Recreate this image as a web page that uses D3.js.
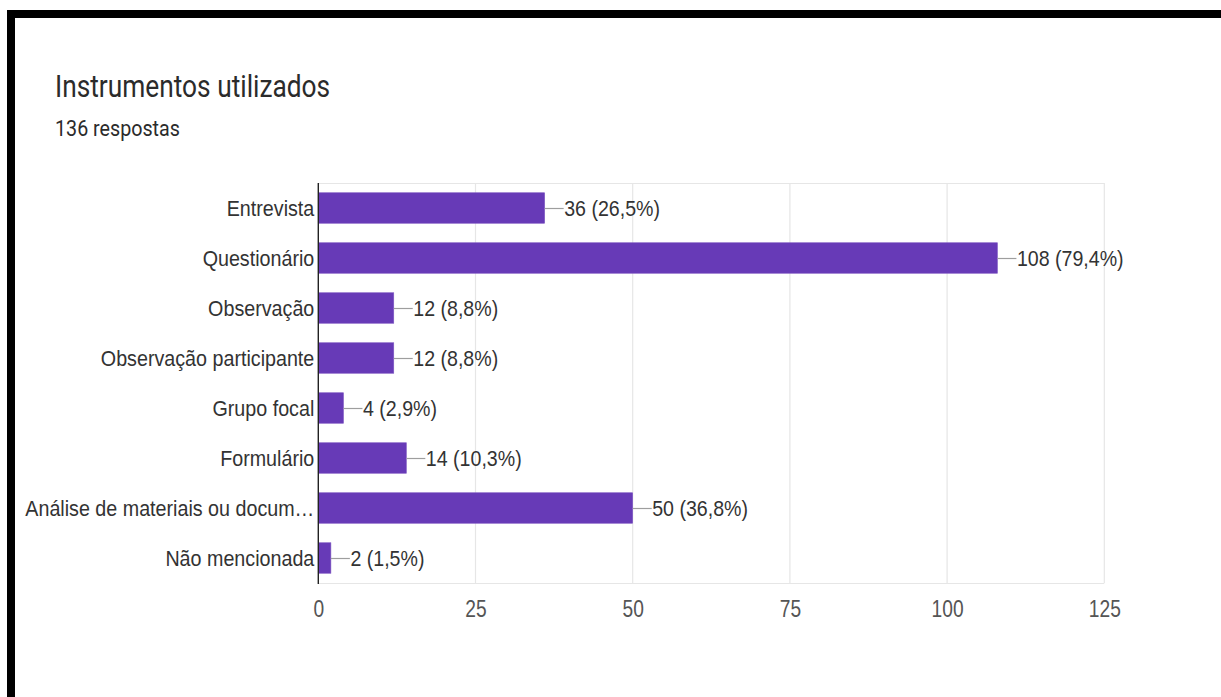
<!DOCTYPE html>
<html>
<head>
<meta charset="utf-8">
<script src="https://cdn.jsdelivr.net/npm/d3@7"></script>
<style>
  html, body { margin: 0; padding: 0; background: #fff; }
  svg { display: block; }
</style>
</head>
<body>
<svg id="chart" width="1221" height="697"></svg>
<script>
// Survey answers: research instruments used (136 responses)
const categories = [
  "Entrevista",
  "Questionário",
  "Observação",
  "Observação participante",
  "Grupo focal",
  "Formulário",
  "Análise de materiais ou docum…",
  "Não mencionada"
];
const counts = [36, 108, 12, 12, 4, 14, 50, 2];
const totalResponses = 136;
const xTicks = [0, 25, 50, 75, 100, 125];
const titleText = "Instrumentos utilizados";
const subtitleText = totalResponses + " respostas";

const svg = d3.select("#chart");
const W = 1221, H = 697;
const stretch = 1.16;           // text is drawn slightly tall
const barColor = "#673ab7";

// frame bands along the top and left edges
svg.append("rect").attr("x", 7).attr("y", 10).attr("width", W - 7).attr("height", 8).attr("fill", "#000");
svg.append("rect").attr("x", 7).attr("y", 10).attr("width", 8).attr("height", H - 10).attr("fill", "#000");

// helper: text with vertical stretch
function stretchedText(parent, x, y, str, opts) {
  return parent.append("text")
    .attr("transform", `translate(${x},${y}) scale(1,${opts.k || stretch})`)
    .attr("x", 0).attr("y", 0)
    .attr("font-family", opts.family || "'Liberation Sans', Arial, sans-serif")
    .attr("font-size", opts.size)
    .attr("fill", opts.fill || "#333")
    .attr("text-anchor", opts.anchor || "start")
    .text(str);
}

// title block
stretchedText(svg, 55, 97, titleText, { family: "Roboto, sans-serif", size: 26.3, k: 1.18, fill: "#2b2b2b" });
stretchedText(svg, 55, 136, subtitleText, { family: "Roboto, sans-serif", size: 19.7, k: 1.14, fill: "#2b2b2b" });

// scales
const plot = { left: 318.3, right: 1104.3, top: 183, bottom: 583 };
const x = d3.scaleLinear().domain([0, 125]).range([plot.left, plot.right]);
const y = d3.scaleBand().domain(categories).range([plot.top, plot.bottom])
  .paddingInner(0.39).paddingOuter(0.195);

// plot frame and vertical gridlines
const grid = svg.append("g");
grid.append("line").attr("x1", plot.left).attr("x2", plot.right)
  .attr("y1", plot.top + 0.5).attr("y2", plot.top + 0.5)
  .attr("stroke", "#e6e6e6").attr("stroke-width", 1.2);
grid.append("line").attr("x1", plot.left).attr("x2", plot.right)
  .attr("y1", plot.bottom + 0.5).attr("y2", plot.bottom + 0.5)
  .attr("stroke", "#e6e6e6").attr("stroke-width", 1.2);
grid.selectAll("line.v").data(xTicks.slice(1)).join("line")
  .attr("class", "v")
  .attr("x1", d => x(d)).attr("x2", d => x(d))
  .attr("y1", plot.top).attr("y2", plot.bottom)
  .attr("stroke", "#e6e6e6").attr("stroke-width", 1.2);

// bars
const rows = categories.map((c, i) => ({ cat: c, v: counts[i] }));
svg.append("g").selectAll("rect").data(rows).join("rect")
  .attr("x", x(0))
  .attr("y", d => y(d.cat))
  .attr("width", d => x(d.v) - x(0))
  .attr("height", y.bandwidth())
  .attr("fill", barColor)
  .attr("stroke", "#7e57c2")
  .attr("stroke-width", 0.6);

// value labels with leader lines
const pct = d3.format(".1f");
const valueG = svg.append("g");
rows.forEach(d => {
  const cy = y(d.cat) + y.bandwidth() / 2;
  const x0 = x(d.v);
  valueG.append("line")
    .attr("x1", x0).attr("x2", x0 + 19)
    .attr("y1", cy + 0.5).attr("y2", cy + 0.5)
    .attr("stroke", "#9e9e9e").attr("stroke-width", 1.2);
  const label = d.v + " (" + pct(d.v / totalResponses * 100).replace(".", ",") + "%)";
  stretchedText(valueG, x0 + 19.5, cy + 8.2, label, { size: 19.6, fill: "#333" });
});

// category axis
const yAxis = svg.append("g")
  .attr("transform", `translate(${plot.left},0)`)
  .call(d3.axisLeft(y).tickSize(0).tickPadding(4));
yAxis.select(".domain").remove();
yAxis.selectAll(".tick text")
  .attr("x", -4).attr("y", 0).attr("dy", null)
  .attr("transform", `translate(0,8.2) scale(1,${stretch})`)
  .attr("font-family", "'Liberation Sans', Arial, sans-serif")
  .attr("font-size", 19.7)
  .attr("fill", "#333")
  .attr("text-anchor", "end");

// value axis labels
const xAxis = svg.append("g")
  .attr("transform", `translate(0,617)`)
  .call(d3.axisBottom(x).tickValues(xTicks).tickSize(0).tickPadding(0));
xAxis.select(".domain").remove();
xAxis.selectAll(".tick text")
  .attr("y", 0).attr("dy", null)
  .attr("transform", `scale(1,1.2)`)
  .attr("font-family", "'Liberation Sans', Arial, sans-serif")
  .attr("font-size", 19.2)
  .attr("fill", "#555")
  .attr("text-anchor", "middle");

// baseline axis line
svg.append("line")
  .attr("x1", plot.left).attr("x2", plot.left)
  .attr("y1", plot.top).attr("y2", plot.bottom + 1)
  .attr("stroke", "#222").attr("stroke-width", 1.4);
</script>
</body>
</html>
